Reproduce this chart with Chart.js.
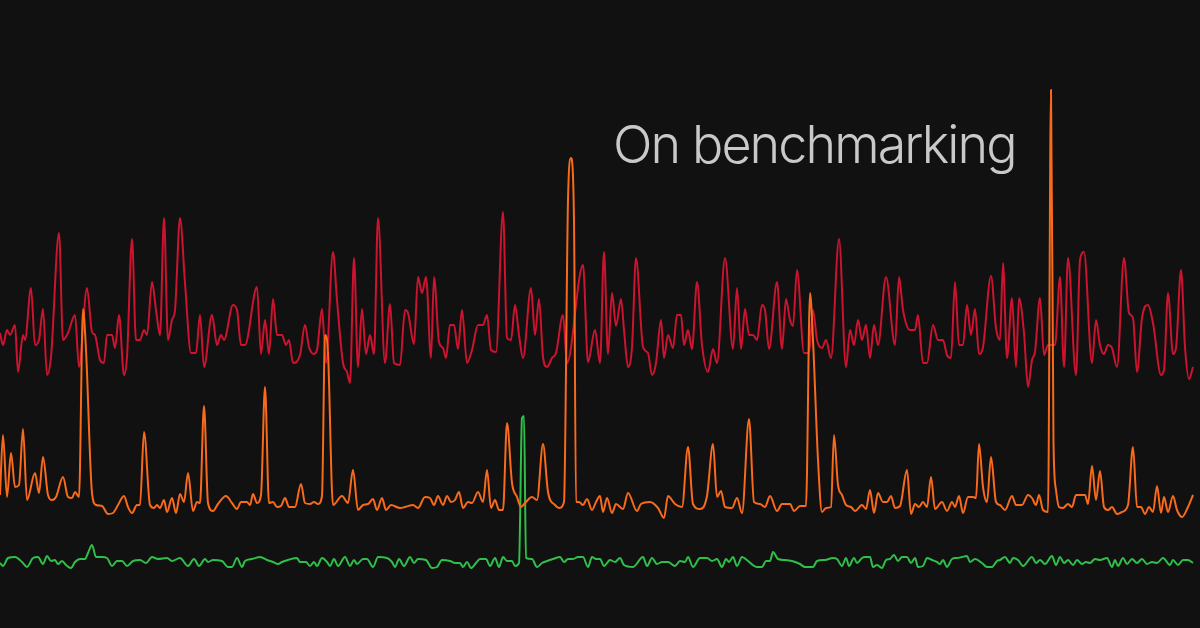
<!DOCTYPE html>
<html>
<head>
<meta charset="utf-8">
<script src="https://cdn.jsdelivr.net/npm/chart.js@4"></script>
<style>
  html, body { margin: 0; padding: 0; background: #111111; }
  #wrap { position: relative; width: 1200px; height: 628px; overflow: hidden; }
  #title {
    position: absolute; left: 613px; top: 119px;
    font-family: Inter, "Noto Sans", sans-serif; font-weight: 300;
    font-size: 52px; line-height: 52px; color: #c9c9c9;
    white-space: nowrap; letter-spacing: -1.9px;
  }
</style>
</head>
<body>
<div id="wrap">
  <canvas id="chart"></canvas>
  <div id="title">On benchmarking</div>
</div>
<script>
// [t, value] samples
const slowRuns = [
  [0,267],[3,255],[7,270],[10,265],[15,275],[18,228],[23,265],[25,260],[31,312],[35,255],
  [39,260],[43,291],[47,225],[51,243],[59,367],[63,260],[68,267],[75,285],[79,233],[87,312],
  [92,268],[95,265],[100,240],[104,237],[107,265],[112,265],[115,252],[119,285],[124,225],[127,243],
  [132,361],[136,260],[140,260],[144,270],[147,265],[152,318],[156,290],[160,265],[164,382],[168,260],
  [172,280],[175,290],[180,382],[185,317],[191,247],[196,247],[200,285],[204,233],[212,285],[217,255],
  [221,265],[224,260],[233,295],[237,290],[241,255],[245,255],[257,313],[261,246],[265,280],[269,246],
  [273,301],[277,265],[282,265],[286,255],[289,260],[293,237],[300,245],[305,275],[309,253],[314,246],
  [317,250],[322,291],[326,237],[333,348],[337,300],[343,237],[347,228],[350,217],[354,342],[358,233],
  [362,291],[366,246],[370,265],[374,246],[378,382],[385,237],[390,296],[394,237],[400,235],[405,290],
  [408,287],[414,256],[418,323],[422,307],[426,323],[431,242],[434,323],[439,258],[443,252],[446,242],
  [450,275],[454,275],[458,251],[462,290],[467,237],[472,250],[478,275],[483,275],[487,285],[491,250],
  [496,248],[503,388],[507,262],[511,260],[515,295],[519,265],[523,242],[531,312],[535,265],[539,301],
  [543,243],[547,233],[552,242],[556,247],[563,285],[567,237],[583,335],[588,238],[595,270],[600,237],
  [604,348],[608,246],[612,307],[616,274],[621,301],[624,270],[628,233],[632,253],[636,342],[643,253],
  [648,247],[652,225],[656,237],[661,280],[664,242],[668,265],[673,252],[677,285],[681,285],[684,255],
  [688,270],[692,251],[697,318],[702,255],[708,228],[713,251],[717,237],[725,342],[733,251],[737,312],
  [741,251],[745,291],[749,265],[753,265],[757,260],[762,295],[765,290],[769,251],[777,318],[782,251],
  [786,301],[790,280],[793,274],[797,330],[804,247],[809,247],[813,290],[817,260],[822,252],[826,260],
  [831,242],[839,361],[846,233],[850,270],[854,255],[858,280],[862,260],[866,275],[870,242],[874,275],
  [878,255],[886,323],[895,255],[899,323],[903,290],[910,270],[915,270],[918,285],[923,237],[927,237],
  [933,275],[938,260],[943,260],[947,245],[951,242],[955,318],[959,255],[963,255],[967,295],[971,265],
  [975,291],[979,246],[983,253],[991,324],[996,272],[1000,260],[1003,337],[1007,242],[1012,302],[1016,233],
  [1019,302],[1024,267],[1028,213],[1032,240],[1035,248],[1040,302],[1044,245],[1048,255],[1055,255],[1060,323],
  [1064,233],[1068,342],[1076,225],[1080,340],[1084,348],[1092,237],[1096,280],[1100,255],[1104,246],[1108,255],
  [1112,252],[1117,233],[1124,342],[1129,287],[1133,282],[1137,228],[1142,282],[1148,295],[1153,277],[1161,225],
  [1164,230],[1168,307],[1173,246],[1176,252],[1181,330],[1185,253],[1189,221],[1193,233]
];

const midRuns = [
  [0,105],[3,165],[7,103],[11,147],[15,113],[19,115],[23,171],[27,100],[35,127],[39,107],
  [43,143],[48,105],[52,100],[56,103],[63,123],[68,103],[72,102],[75,108],[79,103],[83,291],
  [86,250],[92,107],[96,95],[102,94],[108,86],[113,87],[118,95],[124,104],[128,93],[132,87],
  [137,95],[140,95],[144,168],[150,95],[154,92],[157,95],[160,92],[164,100],[167,88],[172,102],
  [176,87],[180,106],[184,98],[188,127],[193,89],[197,98],[200,97],[204,194],[208,97],[213,89],
  [218,96],[226,104],[232,97],[237,91],[241,98],[247,98],[250,95],[253,106],[257,97],[261,105],
  [265,213],[269,97],[273,98],[277,93],[281,94],[285,102],[289,93],[295,93],[301,116],[305,97],
  [310,96],[314,98],[318,96],[322,104],[325,265],[328,247],[333,95],[342,104],[348,97],[353,130],
  [358,90],[363,95],[368,96],[373,101],[377,90],[382,102],[386,90],[391,95],[400,92],[405,93],
  [413,95],[418,92],[425,103],[430,102],[434,95],[438,104],[443,95],[447,104],[451,98],[455,100],
  [459,108],[463,92],[468,98],[472,97],[478,108],[483,98],[487,130],[491,92],[495,100],[499,90],
  [503,90],[507,177],[512,117],[517,103],[521,93],[525,97],[532,103],[537,100],[543,156],[548,108],
  [555,95],[559,92],[564,98],[568,400],[571,442],[574,380],[576,98],[579,98],[583,95],[587,101],
  [592,90],[596,98],[600,104],[603,88],[607,102],[612,87],[616,96],[623,91],[628,107],[637,89],
  [641,96],[650,98],[658,92],[664,82],[668,104],[675,96],[682,93],[688,153],[693,96],[700,91],
  [707,104],[713,156],[717,103],[721,109],[725,93],[732,92],[737,102],[742,87],[749,181],[754,98],
  [760,96],[765,93],[770,104],[777,89],[782,96],[790,96],[794,89],[800,94],[806,94],[810,307],
  [813,260],[818,140],[822,88],[826,92],[831,93],[834,165],[838,115],[842,105],[846,95],[851,93],
  [855,89],[862,95],[866,91],[870,110],[874,87],[878,107],[883,98],[887,98],[891,104],[895,92],
  [900,94],[907,130],[911,86],[915,96],[919,93],[923,98],[927,93],[931,123],[935,91],[942,98],
  [947,89],[952,98],[955,93],[959,104],[963,87],[968,103],[973,103],[976,102],[979,156],[983,113],
  [987,98],[991,143],[996,98],[1000,95],[1005,90],[1012,104],[1016,95],[1022,95],[1028,105],[1032,102],
  [1036,95],[1039,105],[1043,90],[1048,88],[1051,510],[1053.5,157],[1056,110],[1059,93],[1063,92],[1068,96],
  [1072,93],[1076,105],[1085,105],[1088,96],[1092,134],[1096,100],[1100,129],[1104,93],[1108,90],[1112,93],
  [1117,86],[1122,88],[1128,95],[1133,153],[1137,93],[1141,93],[1145,86],[1149,93],[1153,88],[1157,114],
  [1161,87],[1164,103],[1168,88],[1173,104],[1177,90],[1182,83],[1188,93],[1193,105]
];

const fastRuns = [
  [0,37],[3,34],[8,42],[15,43],[22,38],[27,33],[33,42],[38,43],[43,36],[47,44],
  [51,39],[55,40],[58,36],[62,39],[66,35],[71,32],[75,38],[80,41],[85,41],[88,47],
  [92,55],[96,43],[102,43],[107,42],[112,34],[117,39],[122,39],[127,34],[133,39],[140,40],
  [146,37],[152,43],[158,41],[167,42],[172,39],[180,42],[188,34],[194,41],[199,34],[205,41],
  [208,38],[213,40],[222,39],[228,33],[232,33],[237,42],[242,33],[245,39],[252,41],[260,43],
  [267,40],[273,38],[278,36],[282,38],[288,40],[297,42],[300,38],[306,38],[310,34],[314,38],
  [317,34],[322,42],[327,38],[330,34],[334,41],[338,34],[345,43],[350,34],[354,40],[357,36],
  [363,41],[367,41],[373,33],[378,43],[387,42],[392,38],[395,33],[399,41],[404,34],[410,43],
  [414,37],[418,41],[426,40],[432,32],[437,33],[442,40],[450,39],[455,37],[460,37],[463,33],
  [467,38],[471,32],[476,37],[480,41],[486,41],[490,34],[495,42],[499,33],[503,43],[507,39],
  [512,39],[515,34],[519,37],[522,182],[524,184],[526,42],[532,41],[537,33],[542,37],[547,39],
  [553,41],[560,43],[564,38],[568,41],[573,41],[578,43],[583,43],[588,33],[592,43],[596,41],
  [600,41],[604,34],[610,40],[615,38],[620,42],[624,35],[633,33],[643,43],[647,34],[652,42],
  [657,36],[662,38],[668,38],[675,34],[680,39],[685,38],[688,43],[693,33],[700,42],[707,42],
  [712,39],[717,41],[722,33],[726,41],[729,38],[733,43],[737,34],[742,43],[748,39],[757,33],
  [762,33],[766,39],[770,39],[773,48],[778,41],[785,40],[792,39],[800,36],[805,33],[813,33],
  [817,39],[825,40],[833,42],[837,41],[842,34],[846,42],[849,34],[854,42],[857,37],[862,42],
  [865,43],[870,43],[873,33],[877,35],[882,32],[886,40],[890,41],[894,45],[898,39],[902,43],
  [907,43],[911,37],[915,42],[918,33],[923,34],[927,42],[932,40],[937,38],[940,36],[943,40],
  [947,33],[952,41],[957,42],[962,43],[967,44],[970,38],[975,41],[982,37],[987,33],[992,33],
  [997,39],[1000,40],[1005,43],[1010,37],[1013,42],[1018,40],[1023,34],[1032,43],[1036,37],[1040,40],
  [1045,36],[1052,44],[1056,35],[1060,43],[1064,37],[1068,40],[1073,35],[1077,40],[1082,36],[1086,38],
  [1090,37],[1095,41],[1100,40],[1107,42],[1112,33],[1115,40],[1118,34],[1123,42],[1127,36],[1132,41],
  [1137,37],[1142,41],[1147,36],[1152,38],[1157,37],[1163,42],[1170,35],[1173,40],[1178,35],[1183,40],
  [1188,40],[1193,37]
];

const toPoints = runs => runs.map(([t, v]) => ({ x: t, y: v }));

function series(label, runs, color, order) {
  return {
    label: label,
    data: toPoints(runs),
    borderColor: color,
    borderWidth: 2,
    pointRadius: 0,
    fill: false,
    cubicInterpolationMode: 'monotone',
    order: order
  };
}

new Chart(document.getElementById('chart'), {
  type: 'line',
  data: {
    datasets: [
      series('mid', midRuns, '#f86a1c', 0),
      series('fast', fastRuns, '#2fbf4a', 1),
      series('slow', slowRuns, '#cc1430', 2)
    ]
  },
  options: {
    responsive: true,
    maintainAspectRatio: false,
    animation: false,
    layout: { padding: 0 },
    plugins: { legend: { display: false }, tooltip: { enabled: false } },
    scales: {
      x: { type: 'linear', display: false, min: 0, max: 1200 },
      y: { display: false, min: -28, max: 600 }
    }
  }
});
</script>
</body>
</html>
